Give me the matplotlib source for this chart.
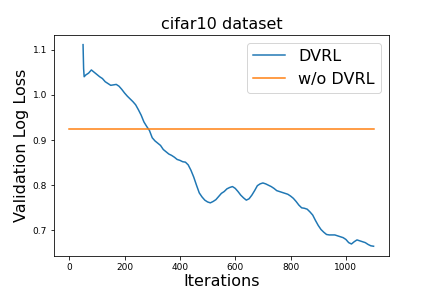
import matplotlib
matplotlib.use("Agg")
import matplotlib.pyplot as plt

# iterations and validation log loss
dvrl_iter = [50, 52, 54] + list(range(60, 1101, 10))
dvrl_loss = [1.111, 1.058, 1.040,
             1.044, 1.048, 1.055, 1.050, 1.045, 1.040, 1.036, 1.029, 1.025, 1.021,
             1.022, 1.023, 1.019, 1.012, 1.004, 0.997, 0.991, 0.985, 0.978, 0.967,
             0.955, 0.940, 0.930, 0.921, 0.905, 0.898, 0.893, 0.888, 0.879, 0.874,
             0.869, 0.866, 0.862, 0.857, 0.855, 0.852, 0.851, 0.845, 0.833, 0.818,
             0.800, 0.783, 0.774, 0.767, 0.763, 0.761, 0.764, 0.768, 0.775, 0.782,
             0.786, 0.792, 0.795, 0.797, 0.793, 0.786, 0.778, 0.772, 0.767, 0.770,
             0.778, 0.788, 0.799, 0.803, 0.805, 0.803, 0.800, 0.797, 0.793, 0.788,
             0.786, 0.784, 0.782, 0.780, 0.776, 0.771, 0.764, 0.756, 0.750, 0.749,
             0.747, 0.741, 0.734, 0.722, 0.711, 0.702, 0.696, 0.691, 0.690, 0.690,
             0.690, 0.688, 0.686, 0.684, 0.680, 0.673, 0.670, 0.675, 0.679, 0.677,
             0.675, 0.673, 0.669, 0.666, 0.665]

baseline_iter = [0, 1100]
baseline_loss = [0.925, 0.925]

fig = plt.figure(figsize=(6, 4), dpi=72)
plt.plot(dvrl_iter, dvrl_loss, label='DVRL')
plt.plot(baseline_iter, baseline_loss, label='w/o DVRL')
plt.title('cifar10 dataset', fontsize=16)
plt.xlabel('Iterations', fontsize=16, labelpad=2)
plt.ylabel('Validation Log Loss', fontsize=16)
plt.tick_params(labelsize=9)
plt.legend(fontsize=16, loc='upper right')
plt.savefig('out.png', dpi=72)
